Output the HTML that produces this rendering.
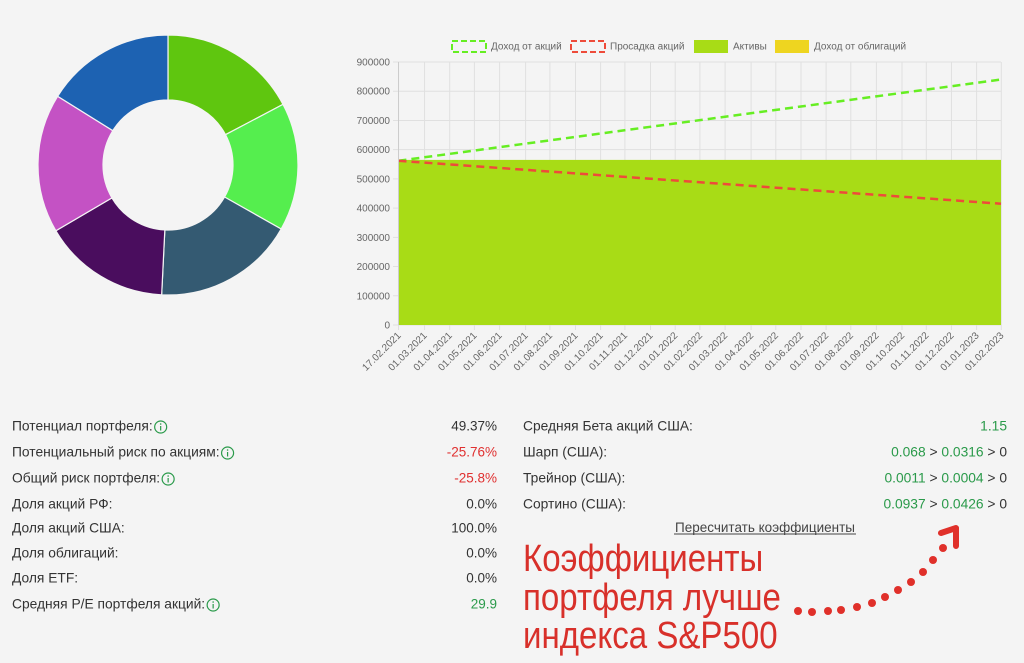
<!DOCTYPE html>
<html><head><meta charset="utf-8"><style>
body{margin:0;background:#f4f4f4;width:1024px;height:663px;overflow:hidden;font-family:"Liberation Sans","DejaVu Sans",sans-serif;}
svg{position:absolute;left:0;top:0}
</style></head><body>
<svg id="s" width="1024" height="663" xmlns="http://www.w3.org/2000/svg" font-family="Liberation Sans, DejaVu Sans, sans-serif"></svg>
<script>
var s='';
var cx=168,cy=165,R=130,r=65;
var segs=[[0,62.2,'#5fc60f'],[62.2,119.5,'#55ee4e'],[119.5,182.8,'#345a72'],[182.8,239.6,'#4a0d5e'],[239.6,301.9,'#c452c4'],[301.9,360,'#1d62b2']];
function pt(a,rr){a=a*Math.PI/180;return [cx+rr*Math.sin(a),cy-rr*Math.cos(a)];}
segs.forEach(function(g){var p1=pt(g[0],R),p2=pt(g[1],R),p3=pt(g[1],r),p4=pt(g[0],r);
s+='<path d="M'+p1+' A'+R+','+R+' 0 0 1 '+p2+' L'+p3+' A'+r+','+r+' 0 0 0 '+p4+'Z" fill="'+g[2]+'" stroke="#f4f4f4" stroke-width="1.2"/>';});
var x0=398.5,x1=1001,y0=325,yt=62;
function Y(v){return y0-(v/900000)*(y0-yt);}
var gx=[135,195,253,310,368,428,484,543,601,657,716,773,830,888,948,1005,1063,1121,1178,1237,1296,1352,1410,1468,1525].map(function(z){return z/2.306+340;});
for(var i=0;i<=9;i++){var y=Y(i*100000);s+='<line x1="393" x2="'+x1+'" y1="'+y+'" y2="'+y+'" stroke="#e0e0e0"/>';
s+='<text x="390" y="'+(y+3.5)+'" font-size="10" fill="#666" text-anchor="end">'+(i*100000)+'</text>';}
var labs=['17.02.2021'];var m=3,yr=2021;for(i=1;i<25;i++){labs.push('01.'+(m<10?'0':'')+m+'.'+yr);m++;if(m>12){m=1;yr++;}}
gx.forEach(function(x,i){s+='<line x1="'+x+'" x2="'+x+'" y1="'+yt+'" y2="330" stroke="#e0e0e0"/>';
s+='<text transform="translate('+(x+3)+',336) rotate(-45)" font-size="10" fill="#666" text-anchor="end">'+labs[i]+'</text>';});
s+='<rect x="'+x0+'" y="'+Y(565000)+'" width="'+(x1-x0)+'" height="'+(y0-Y(565000))+'" fill="#a8dc16"/>';
s+='<line x1="'+x0+'" y1="'+Y(562000)+'" x2="'+x1+'" y2="'+Y(840000)+'" stroke="#66ee22" stroke-width="2.5" stroke-dasharray="8,5"/>';
s+='<line x1="'+x0+'" y1="'+Y(562000)+'" x2="'+x1+'" y2="'+Y(415000)+'" stroke="#ee4b3a" stroke-width="2.5" stroke-dasharray="8,5"/>';
s+='<line x1="'+x0+'" x2="'+x0+'" y1="'+yt+'" y2="'+y0+'" stroke="#ccc"/>';
s+='<rect x="452" y="41" width="34" height="11" fill="none" stroke="#66ee22" stroke-width="2" stroke-dasharray="6,3"/><text x="491" y="47" font-size="10" fill="#666" dominant-baseline="middle">Доход от акций</text>';
s+='<rect x="571" y="41" width="34" height="11" fill="none" stroke="#ee4b3a" stroke-width="2" stroke-dasharray="6,3"/><text x="610" y="47" font-size="10" fill="#666" dominant-baseline="middle">Просадка акций</text>';
s+='<rect x="694" y="40" width="34" height="13" fill="#a8dc16"/><text x="733" y="47" font-size="10" fill="#666" dominant-baseline="middle">Активы</text>';
s+='<rect x="775" y="40" width="34" height="13" fill="#eed520"/><text x="814" y="47" font-size="10" fill="#666" dominant-baseline="middle">Доход от облигаций</text>';
var L=[['Потенциал портфеля:',1,'49.37%','#333'],['Потенциальный риск по акциям:',1,'-25.76%','#e03030'],['Общий риск портфеля:',1,'-25.8%','#e03030'],['Доля акций РФ:',0,'0.0%','#333'],['Доля акций США:',0,'100.0%','#333'],['Доля облигаций:',0,'0.0%','#333'],['Доля ETF:',0,'0.0%','#333'],['Средняя P/E портфеля акций:',1,'29.9','#2a9a4a']];
var ly=[426,452,478,504,528,553,578,604];
L.forEach(function(l,i){var y=ly[i];s+='<text id="t'+i+'" x="12" y="'+(y+4.5)+'" font-size="13.8" fill="#333">'+l[0]+'</text>';
s+='<text x="497" y="'+(y+4.5)+'" font-size="13.5" fill="'+l[3]+'" text-anchor="end">'+l[2]+'</text>';});
var R2=[['Средняя Бета акций США:','<tspan fill="#2a9a4a">1.15</tspan>'],['Шарп (США):','<tspan fill="#2a9a4a">0.068</tspan> &gt; <tspan fill="#2a9a4a">0.0316</tspan> &gt; 0'],['Трейнор (США):','<tspan fill="#2a9a4a">0.0011</tspan> &gt; <tspan fill="#2a9a4a">0.0004</tspan> &gt; 0'],['Сортино (США):','<tspan fill="#2a9a4a">0.0937</tspan> &gt; <tspan fill="#2a9a4a">0.0426</tspan> &gt; 0']];
R2.forEach(function(l,i){var y=ly[i];s+='<text x="523" y="'+(y+4.5)+'" font-size="13.8" fill="#333">'+l[0]+'</text><text x="1007" y="'+(y+4.5)+'" font-size="13.8" fill="#333" text-anchor="end">'+l[1]+'</text>';});
s+='<text x="765" y="532" font-size="13.5" fill="#444" text-anchor="middle">Пересчитать коэффициенты</text><line x1="674" x2="856" y1="534" y2="534" stroke="#444"/>';
s+='<g transform="translate(523,0) scale(0.87,1)"><text font-size="38" fill="#d8302a"><tspan x="0" y="571">Коэффициенты</tspan><tspan x="0" y="610">портфеля лучше</tspan><tspan x="0" y="648">индекса S&amp;P500</tspan></text></g>';
[[798,611],[812,612],[828,611],[841,610],[857,607],[872,603],[885,597],[898,590],[911,582],[923,572],[933,560],[943,548]].forEach(function(p){s+='<circle cx="'+p[0]+'" cy="'+p[1]+'" r="4" fill="#e0302a"/>';});
s+='<path d="M941,533 L956,528 L956,546" fill="none" stroke="#e0302a" stroke-width="6" stroke-linecap="round" stroke-linejoin="round"/>';
document.getElementById('s').innerHTML=s;
var svg=document.getElementById('s'),add='';
[0,1,2,7].forEach(function(i){var t=document.getElementById('t'+i);var w=t.getComputedTextLength();var x=12+w+8,y=ly[i]+1;
add+='<circle cx="'+x+'" cy="'+y+'" r="6" fill="none" stroke="#2a9a4a" stroke-width="1.2"/><line x1="'+x+'" x2="'+x+'" y1="'+(y-1)+'" y2="'+(y+3.5)+'" stroke="#2a9a4a" stroke-width="1.2"/><circle cx="'+x+'" cy="'+(y-3)+'" r="0.8" fill="#2a9a4a"/>';});
svg.innerHTML+=add;
</script>
</body></html>
